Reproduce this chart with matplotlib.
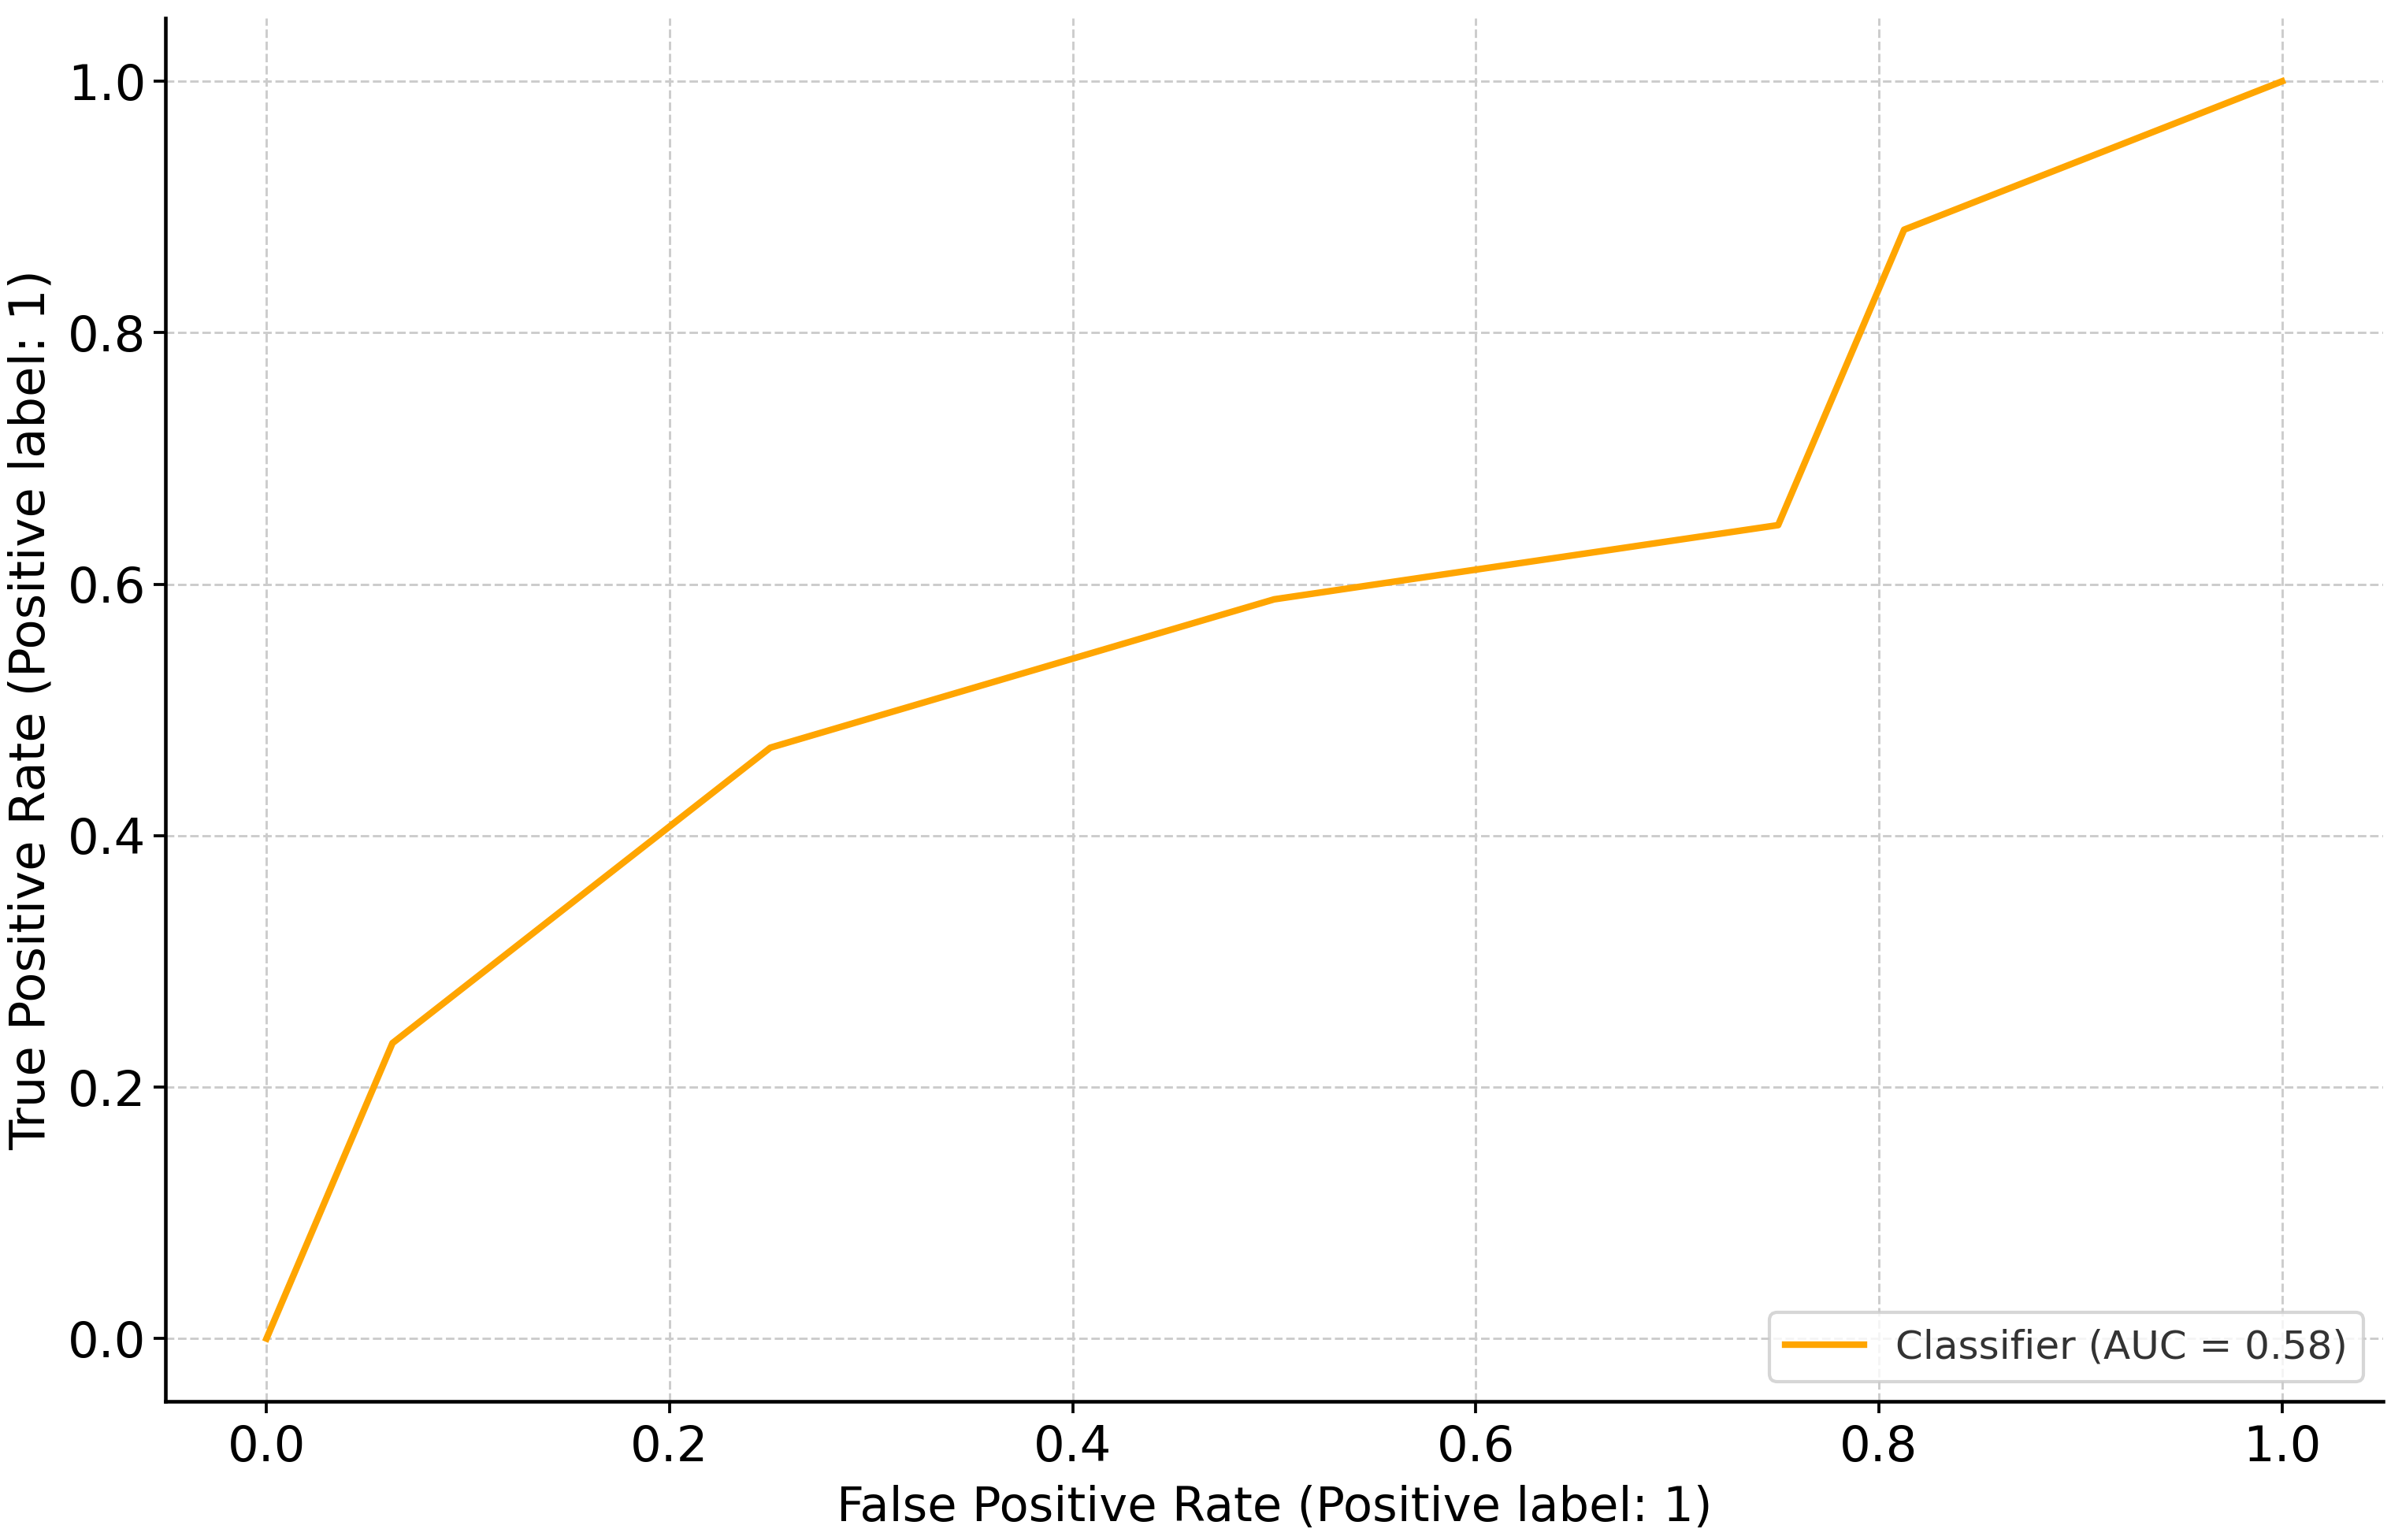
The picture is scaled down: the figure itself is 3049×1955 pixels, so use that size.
import matplotlib
matplotlib.use("Agg")
import matplotlib.pyplot as plt

fpr = [0.0, 0.0625, 0.25, 0.5, 0.75, 0.8125, 1.0]
tpr = [0.0, 0.235, 0.47, 0.588, 0.647, 0.882, 1.0]
auc_label = "Classifier (AUC = 0.58)"
xlabel = "False Positive Rate (Positive label: 1)"
ylabel = "True Positive Rate (Positive label: 1)"

plt.rcParams['font.family'] = ['DejaVu Sans']
fig = plt.figure(figsize=(3049/300, 1955/300), dpi=300)
ax = fig.add_axes([0.069, 0.090, 0.923, 0.898])

ax.plot(fpr, tpr, color='#FFA500', lw=2.0, label=auc_label)
ax.set_xlim(-0.05, 1.05)
ax.set_ylim(-0.05, 1.05)
ax.set_xlabel(xlabel, fontsize=14.6, labelpad=4)
ax.set_ylabel(ylabel, fontsize=15, labelpad=4)
ax.tick_params(labelsize=15, length=3.5, width=0.9)
ax.tick_params(axis='y', pad=2.5)
ax.grid(True, linestyle='--', color='#cccccc', linewidth=0.7)
for s in ['top', 'right']:
    ax.spines[s].set_visible(False)
for s in ['left', 'bottom']:
    ax.spines[s].set_linewidth(1.1)
leg = ax.legend(loc='lower right', fontsize=12, frameon=True, fancybox=True)
leg.get_frame().set_edgecolor('#cccccc')
for t in leg.get_texts():
    t.set_color('#333333')

fig.savefig("out.png", dpi=300)
